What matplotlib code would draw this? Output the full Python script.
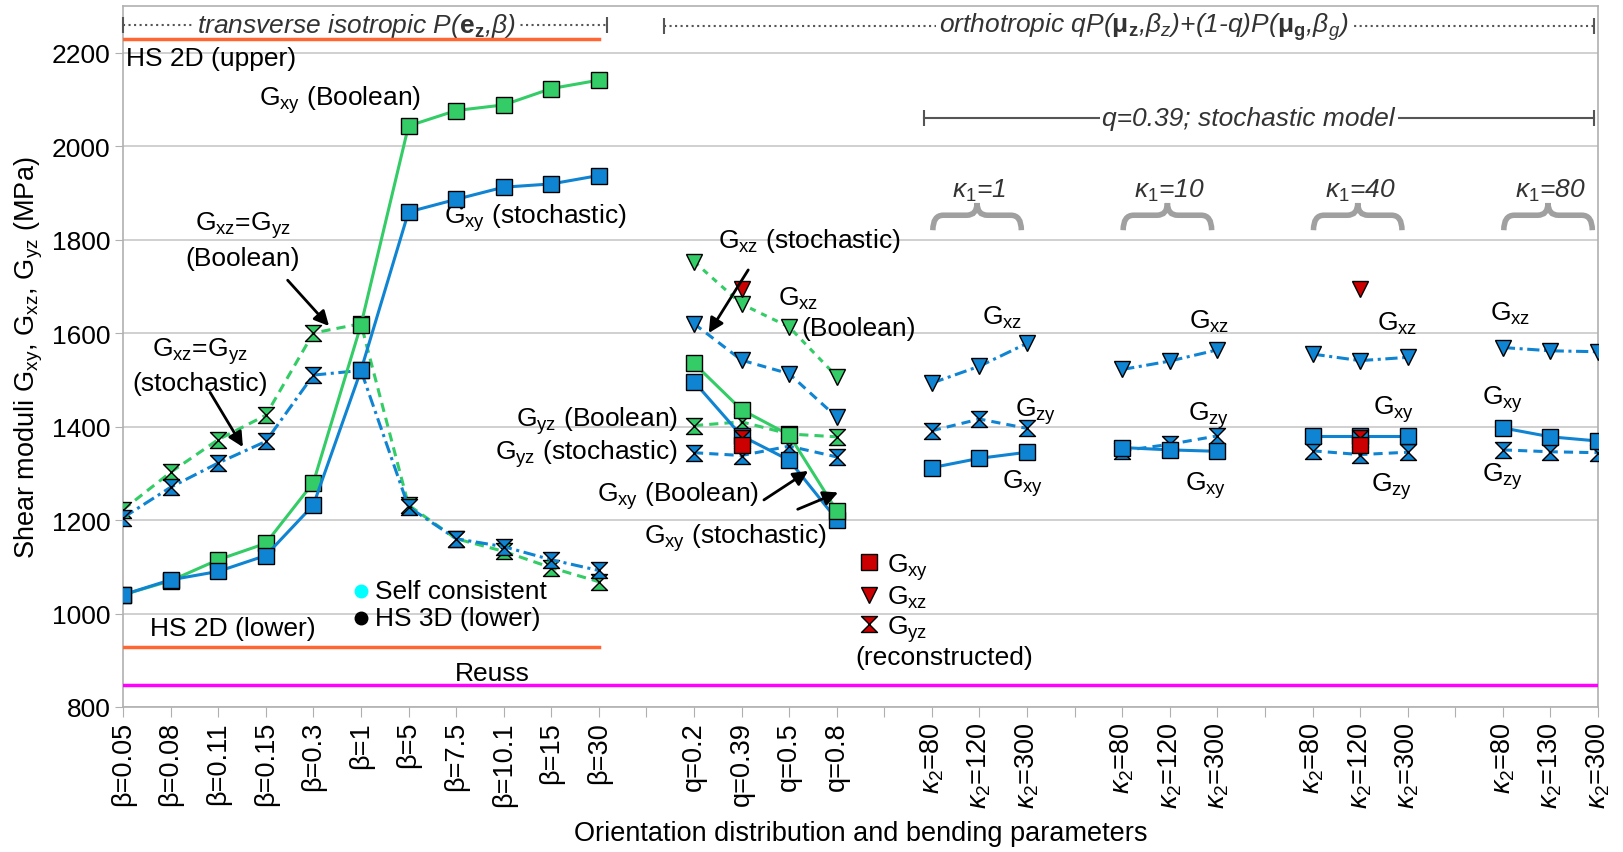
import numpy as np
import matplotlib.pyplot as plt
from matplotlib.path import Path
from matplotlib.patches import PathPatch
from matplotlib.lines import Line2D

plt.rcParams['font.family'] = ['Liberation Sans', 'DejaVu Sans']
plt.rcParams['mathtext.fontset'] = 'custom'
plt.rcParams['mathtext.rm'] = 'Liberation Sans'
plt.rcParams['mathtext.it'] = 'Liberation Sans:italic'
plt.rcParams['mathtext.bf'] = 'Liberation Sans:bold'

# ---- data (MPa) ----
beta_labels = ["β=0.05", "β=0.08", "β=0.11", "β=0.15", "β=0.3", "β=1",
               "β=5", "β=7.5", "β=10.1", "β=15", "β=30"]
gxy_bool_beta = [1040, 1070, 1115, 1150, 1280, 1617, 2043, 2076, 2088, 2123, 2141]
gxy_stoch_beta = [1040, 1072, 1090, 1124, 1232, 1520, 1859, 1886, 1912, 1919, 1937]
gxz_bool_beta = [1222, 1302, 1372, 1424, 1600, 1620, 1232, 1160, 1133, 1098, 1068]
gxz_stoch_beta = [1205, 1270, 1322, 1368, 1510, 1520, 1228, 1160, 1143, 1115, 1092]

q_labels = ["q=0.2", "q=0.39", "q=0.5", "q=0.8"]
gxz_bool_q = [1753, 1662, 1613, 1507]
gxz_stoch_q = [1620, 1542, 1513, 1420]
gyz_bool_q = [1402, 1410, 1384, 1378]
gyz_stoch_q = [1344, 1338, 1358, 1335]
gxy_bool_q = [1535, 1436, 1382, 1220]
gxy_stoch_q = [1496, 1380, 1328, 1201]

kappa1 = [1, 10, 40, 80]
kappa2 = [[80, 120, 300], [80, 120, 300], [80, 120, 300], [80, 130, 300]]
gxz_kappa = [[1493, 1529, 1578], [1522, 1540, 1564], [1555, 1541, 1548], [1569, 1562, 1560]]
gzy_kappa = [[1391, 1416, 1396], [1348, 1362, 1380], [1348, 1340, 1345], [1350, 1346, 1344]]
gxy_kappa = [[1312, 1332, 1345], [1355, 1350, 1347], [1380, 1380, 1380], [1397, 1378, 1369]]

# reconstructed values (q=0.39 and kappa1=40, kappa2=120)
rec_gxy = 1360
rec_gxz = 1695
rec_gyz = 1376

hs2d_upper = 2229
hs2d_lower = 928
reuss = 846
self_consistent = 1048
hs3d_lower = 990

GREEN = '#33cc66'
BLUE = '#0f84d2'
RED = '#cc0000'

# x positions: categories with empty slots between groups
beta_x = np.arange(len(beta_labels))
q_x = np.arange(12, 16)
kappa_x = [np.arange(17, 20), np.arange(21, 24), np.arange(25, 28), np.arange(29, 32)]

hourglass = Path([(-1, 1), (1, 1), (-1, -1), (1, -1), (-1, 1)],
                 [Path.MOVETO, Path.LINETO, Path.LINETO, Path.LINETO, Path.CLOSEPOLY])


def G(sub):
    return "G$_{\\mathrm{%s}}$" % sub


fig = plt.figure(figsize=(16.23, 8.53), dpi=100)
ax = fig.add_axes([0.0758, 0.170, 0.9088, 0.822])

ms_sq, ms_tri, ms_hg = 11, 12, 11.5
mk = dict(mec='black', mew=1.0)
lw = 2.2
dash = (3, 2)
dashdot = (4, 1.5, 1, 1.5)

# transverse isotropic part
ax.plot(beta_x, gxz_bool_beta, color=GREEN, lw=lw, dashes=dash, marker=hourglass, ms=ms_hg, mfc=GREEN, **mk, zorder=5)
ax.plot(beta_x, gxz_stoch_beta, color=BLUE, lw=lw, dashes=dashdot, marker=hourglass, ms=ms_hg, mfc=BLUE, **mk, zorder=5)
ax.plot(beta_x, gxy_bool_beta, color=GREEN, lw=lw, marker='s', ms=ms_sq, mfc=GREEN, **mk, zorder=6)
ax.plot(beta_x, gxy_stoch_beta, color=BLUE, lw=lw, marker='s', ms=ms_sq, mfc=BLUE, **mk, zorder=6)

# orthotropic, q variation
ax.plot(q_x, gxz_bool_q, color=GREEN, lw=lw, dashes=(2, 2), marker='v', ms=ms_tri, mfc=GREEN, **mk, zorder=5)
ax.plot(q_x, gxz_stoch_q, color=BLUE, lw=lw, dashes=dash, marker='v', ms=ms_tri, mfc=BLUE, **mk, zorder=5)
ax.plot(q_x, gyz_bool_q, color=GREEN, lw=lw, dashes=dash, marker=hourglass, ms=ms_hg, mfc=GREEN, **mk, zorder=5)
ax.plot(q_x, gyz_stoch_q, color=BLUE, lw=lw, dashes=dash, marker=hourglass, ms=ms_hg, mfc=BLUE, **mk, zorder=5)
ax.plot(q_x, gxy_stoch_q, color=BLUE, lw=lw, marker='s', ms=ms_sq, mfc=BLUE, **mk, zorder=6)
ax.plot(q_x, gxy_bool_q, color=GREEN, lw=lw, marker='s', ms=ms_sq, mfc=GREEN, **mk, zorder=6)

# orthotropic, kappa variation
for xs, a, b, c in zip(kappa_x, gxz_kappa, gzy_kappa, gxy_kappa):
    ax.plot(xs, a, color=BLUE, lw=lw, dashes=dashdot, marker='v', ms=ms_tri, mfc=BLUE, **mk, zorder=5)
    ax.plot(xs, b, color=BLUE, lw=lw, dashes=dash, marker=hourglass, ms=ms_hg, mfc=BLUE, **mk, zorder=5)
    ax.plot(xs, c, color=BLUE, lw=lw, marker='s', ms=ms_sq, mfc=BLUE, **mk, zorder=6)

# reconstructed
rec_x = [q_x[1], kappa_x[2][1]]
ax.plot(rec_x, [rec_gyz] * 2, ls='none', marker=hourglass, ms=ms_hg, mfc=RED, **mk, zorder=7)
ax.plot(rec_x, [rec_gxy] * 2, ls='none', marker='s', ms=ms_sq, mfc=RED, **mk, zorder=8)
ax.plot(rec_x, [rec_gxz] * 2, ls='none', marker='v', ms=ms_tri, mfc=RED, **mk, zorder=7)

# bounds
ax.plot([beta_x[0], beta_x[-1]], [hs2d_upper] * 2, color='#ff6633', lw=2.5, zorder=4)
ax.plot([beta_x[0], beta_x[-1]], [hs2d_lower] * 2, color='#ff6633', lw=2.5, zorder=4)
ax.axhline(reuss, color='#ff00ff', lw=2.5, zorder=4)
ax.plot([beta_x[5]], [self_consistent], 'o', color='#00ffff', ms=9, zorder=6)
ax.plot([beta_x[5]], [hs3d_lower], 'o', color='black', ms=9, zorder=6)

# axes styling
ax.set_xlim(0, 31)
ax.set_ylim(800, 2300)
ax.set_yticks(np.arange(800, 2201, 200))
ax.grid(axis='y', color='#c8c8c8', lw=1.2)
ax.set_axisbelow(True)
for s in ax.spines.values():
    s.set_color('#b0b0b0')
    s.set_linewidth(1.2)

tick_labels = [''] * 32
for x, lab in zip(beta_x, beta_labels):
    tick_labels[x] = lab
for x, lab in zip(q_x, q_labels):
    tick_labels[x] = lab
for xs, k2 in zip(kappa_x, kappa2):
    for x, v in zip(xs, k2):
        tick_labels[x] = "$\\kappa_{2}$=%d" % v
ax.set_xticks(np.arange(32))
ax.set_xticklabels(tick_labels, rotation=90, fontsize=19.5)
ax.tick_params(axis='x', length=7, color='#b0b0b0', pad=3)
ax.tick_params(axis='y', length=6, color='#b0b0b0', labelsize=19, pad=3)
ax.set_xlabel("Orientation distribution and bending parameters", fontsize=19.5, labelpad=9)
ax.set_ylabel("Shear moduli G$_{\\mathrm{xy}}$, G$_{\\mathrm{xz}}$, G$_{\\mathrm{yz}}$ (MPa)", fontsize=19.5, labelpad=5)

fs = 19
# group headers
def header(x0, x1, y, txt, xt, ls, color):
    ax.plot([x0, x1], [y, y], ls=ls, color=color, lw=1.5, zorder=3, clip_on=False)
    ax.plot([x0, x1], [y, y], ls='none', marker='|', ms=12, mew=1.5, color=color, zorder=3, clip_on=False)
    ax.text(xt, y, txt, ha='center', va='center', fontsize=fs, style='italic', color='#333333', zorder=3,
            bbox=dict(facecolor='white', edgecolor='none', pad=2))

header(0, 10.18, 2258, "transverse isotropic P($\\mathbf{e_z}$,β)", 4.9, ':', '#555555')
header(11.36, 30.91, 2256, "orthotropic qP($\\mathbf{μ_z}$,β$_z$)+(1-q)P($\\mathbf{μ_g}$,β$_g$)", 21.45, ':', '#555555')
header(16.84, 30.91, 2060, "q=0.39; stochastic model", 23.66, '-', '#555555')

# kappa1 braces
def brace(xc, half, ybot, ybar, ytop):
    x0, x1 = xc - half, xc + half
    d = 0.22
    verts = [(x0, ybot), (x0, ybar), (x0 + d, ybar), (xc - d, ybar), (xc, ybar), (xc, ytop),
             (xc, ybar), (xc + d, ybar), (x1 - d, ybar), (x1, ybar), (x1, ybot)]
    codes = [Path.MOVETO, Path.CURVE3, Path.CURVE3, Path.LINETO, Path.CURVE3, Path.CURVE3,
             Path.CURVE3, Path.CURVE3, Path.LINETO, Path.CURVE3, Path.CURVE3]
    ax.add_patch(PathPatch(Path(verts, codes), fill=False, edgecolor='#a0a0a0', lw=4, capstyle='butt'))

for xs, k1 in zip(kappa_x, kappa1):
    xc = xs[1] - 0.05
    brace(xc, 0.93, 1820, 1852, 1878)
    ax.text(xs[1], 1906, "$\\kappa_{1}$=%d" % k1, ha='center', va='center', fontsize=fs, style='italic', color='#333333')

# text annotations
ax.text(0.07, 2189, "HS 2D (upper)", ha='left', va='center', fontsize=fs)
ax.text(2.3, 970, "HS 2D (lower)", ha='center', va='center', fontsize=fs)
ax.text(7.77, 873, "Reuss", ha='center', va='center', fontsize=fs)
ax.text(5.29, 1048, "Self consistent", ha='left', va='center', fontsize=fs)
ax.text(5.29, 990, "HS 3D (lower)", ha='left', va='center', fontsize=fs)
ax.text(4.57, 2100, G('xy') + " (Boolean)", ha='center', va='center', fontsize=fs)
ax.text(8.66, 1848, G('xy') + " (stochastic)", ha='center', va='center', fontsize=fs)
ax.text(2.52, 1800, G('xz') + "=" + G('yz') + "\n(Boolean)", ha='center', va='center', fontsize=fs, linespacing=1.3)
ax.text(1.61, 1531, G('xz') + "=" + G('yz') + "\n(stochastic)", ha='center', va='center', fontsize=fs, linespacing=1.3)
ax.text(14.42, 1799, G('xz') + " (stochastic)", ha='center', va='center', fontsize=fs)
ax.text(14.2, 1675, G('xz'), ha='center', va='center', fontsize=fs)
ax.text(15.45, 1611, "(Boolean)", ha='center', va='center', fontsize=fs)
ax.text(11.66, 1414, G('yz') + " (Boolean)", ha='right', va='center', fontsize=fs)
ax.text(11.66, 1343, G('yz') + " (stochastic)", ha='right', va='center', fontsize=fs)
ax.text(13.36, 1254, G('xy') + " (Boolean)", ha='right', va='center', fontsize=fs)
ax.text(14.79, 1163, G('xy') + " (stochastic)", ha='right', va='center', fontsize=fs)

arrow = dict(arrowstyle='-|>', color='black', lw=2, mutation_scale=22, shrinkA=0, shrinkB=0)
ax.annotate('', xy=(4.33, 1615), xytext=(3.46, 1713), arrowprops=arrow, zorder=9)
ax.annotate('', xy=(2.52, 1356), xytext=(1.83, 1473), arrowprops=arrow, zorder=9)
ax.annotate('', xy=(12.31, 1600), xytext=(13.14, 1735), arrowprops=arrow, zorder=9)
ax.annotate('', xy=(14.4, 1305), xytext=(13.47, 1243), arrowprops=arrow, zorder=9)
ax.annotate('', xy=(15.03, 1259), xytext=(14.18, 1223), arrowprops=arrow, zorder=9)

# per-group labels in the kappa part
klabels = [[(18.47, 1635, 'xz'), (19.19, 1434, 'zy'), (18.9, 1279, 'xy')],
           [(22.82, 1626, 'xz'), (22.82, 1425, 'zy'), (22.75, 1276, 'xy')],
           [(26.78, 1622, 'xz'), (26.71, 1438, 'xy'), (26.67, 1274, 'zy')],
           [(29.15, 1644, 'xz'), (29.0, 1460, 'xy'), (29.0, 1294, 'zy')]]
for grp in klabels:
    for x, y, s in grp:
        ax.text(x, y, G(s), ha='center', va='center', fontsize=fs)

# legend for reconstructed values
handles = [Line2D([], [], ls='none', marker='s', ms=ms_sq, mfc=RED, **mk),
           Line2D([], [], ls='none', marker='v', ms=ms_tri, mfc=RED, **mk),
           Line2D([], [], ls='none', marker=hourglass, ms=ms_hg, mfc=RED, **mk)]
ax.legend(handles, [G('xy'), G('xz'), G('yz')], loc='upper left', bbox_to_anchor=(15.4, 1134),
          bbox_transform=ax.transData, frameon=False, fontsize=fs, handlelength=1.0,
          handletextpad=0.2, labelspacing=0.1, borderpad=0, borderaxespad=0)
ax.text(17.25, 906, "(reconstructed)", ha='center', va='center', fontsize=fs)

fig.savefig("out.png", dpi=100)
